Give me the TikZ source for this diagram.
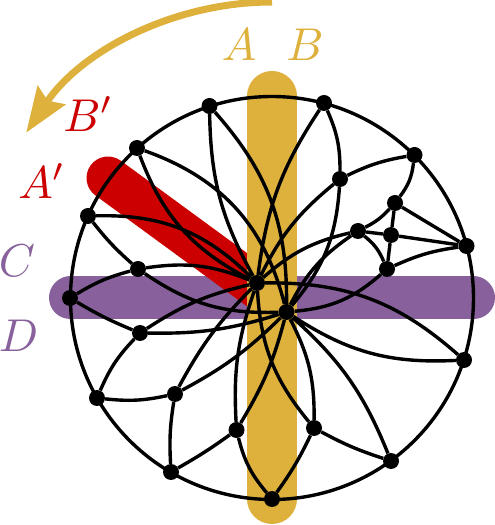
\documentclass[tikz,border=0pt]{standalone}
\usetikzlibrary{arrows.meta}
\definecolor{gold}{RGB}{221,177,60}
\definecolor{crimson}{RGB}{204,0,0}
\definecolor{plum}{RGB}{136,96,155}
\tikzset{
  x=1pt,y=1pt,
  dot/.style={circle,fill=black,inner sep=0pt,minimum size=16pt},
  edge/.style={draw=black,line width=3.4pt},
  band/.style={line cap=round},
  lab/.style={inner sep=0pt,scale=4.6},
}
\begin{document}
\begin{tikzpicture}
\useasboundingbox (0,0) rectangle (495,525);
% bands
\coordinate (cen) at (272,227);
\coordinate (cw) at (70.5,227);
\coordinate (ce) at (473.5,227);
\coordinate (gt) at (272,429);
\coordinate (gb) at (272,26);
\coordinate (rt) at (108,347);
\draw[band,plum,line width=43pt] (cw) -- (ce);
\draw[band,crimson,line width=43pt] (rt) -- (cen);
\draw[band,gold,line width=50pt] (gt) -- (gb);
% rotation arrow
\coordinate (arrowstart) at (272,523);
\draw[gold,line width=7pt,-{Stealth[length=45pt,width=33pt,inset=6.5pt]}]
  (arrowstart) arc[start angle=90,end angle=146,radius=296.5];
% labels
\node[lab,gold] (lA) at (239,480) {$A$};
\node[lab,gold] (lB) at (305,480) {$B$};
\node[lab,crimson] (lBp) at (88.5,411) {$B'$};
\node[lab,crimson] (lAp) at (42,344) {$A'$};
\node[lab,plum] (lC) at (17,264) {$C$};
\node[lab,plum] (lD) at (18.5,189) {$D$};
% outer circle
\node[circle,draw=black,line width=3.4pt,inner sep=0pt,minimum size=403pt] (rim) at (cen) {};
% vertices
\node[dot] (a) at (209.5,419) {};
\node[dot] (b) at (324,422) {};
\node[dot] (c) at (414.5,370) {};
\node[dot] (d) at (466.5,279) {};
\node[dot] (e) at (464,165) {};
\node[dot] (f) at (391,64) {};
\node[dot] (g) at (272,26) {};
\node[dot] (h) at (171,53) {};
\node[dot] (i) at (97,127) {};
\node[dot] (j) at (70,227) {};
\node[dot] (k) at (88,309) {};
\node[dot] (l) at (137,377) {};
\node[dot] (m1) at (340,346) {};
\node[dot] (m2) at (395,322) {};
\node[dot] (m3) at (358,294) {};
\node[dot] (m4) at (391,290) {};
\node[dot] (m5) at (387,256) {};
\node[dot] (P) at (257,242) {};
\node[dot] (Q) at (286.5,213) {};
\node[dot] (n) at (138,256) {};
\node[dot] (o) at (140,192) {};
\node[dot] (p) at (175,131) {};
\node[dot] (q) at (236.5,95) {};
\node[dot] (r) at (314,97) {};
% edges
\path[edge]
  (a) to[bend right=14] (P)
  (a) to[bend left=21] (Q)
  (l) to[bend right=21] (P)
  (l) to[bend left=28] (Q)
  (b) to[bend right=13] (P)
  (b) to[bend left=12] (m1)
  (m1) to[bend right=12] (P)
  (m1) to[bend left=18] (Q)
  (m3) to[bend right=14] (P)
  (m3) to[bend right=14] (Q)
  (m5) to[bend left=18] (Q)
  (c) to[bend right=8] (m1)
  (c) to[bend left=15] (m2)
  (m2) to[bend left=10] (m3)
  (m2) -- (m4)
  (m4) -- (m5)
  (m3) -- (m4)
  (m2) -- (d)
  (m4) -- (d)
  (m3) to[bend left=14] (m5)
  (m5) to[bend left=8] (d)
  (P) to[bend left=21] (e)
  (Q) to[bend right=18] (e)
  (Q) to[bend left=13] (f)
  (Q) to[bend left=14] (r)
  (P) to[bend right=18] (r)
  (Q) to[bend left=8] (q)
  (P) to[bend right=11] (q)
  (g) to[bend left=13] (q)
  (g) to[bend right=5] (r)
  (r) to[bend right=5] (f)
  (q) to[bend left=3] (h)
  (h) to[bend left=6] (p)
  (p) to[bend left=9] (i)
  (i) to[bend left=10] (o)
  (o) to[bend left=4] (j)
  (j) to[bend left=8] (n)
  (n) to[bend left=5] (k)
  (n) to[bend left=15] (P)
  (n) to[bend right=18] (Q)
  (o) to[bend left=10] (P)
  (o) to[bend right=9] (Q)
  (p) to[bend left=8] (P)
  (p) to[bend right=8] (Q)
  (k) to[bend left=23] (P);
\end{tikzpicture}
\end{document}
